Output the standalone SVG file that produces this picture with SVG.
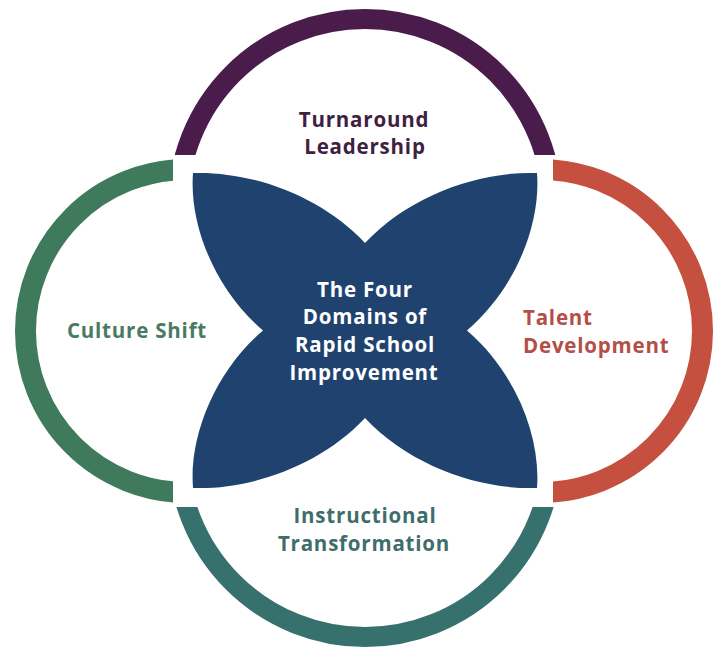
<svg xmlns="http://www.w3.org/2000/svg" width="721" height="648" viewBox="0 0 721 648">
<defs>
<clipPath id="clipTop"><rect x="0" y="0" width="721" height="155"/></clipPath>
<clipPath id="clipBottom"><rect x="0" y="507" width="721" height="141"/></clipPath>
<clipPath id="clipLeft"><rect x="0" y="0" width="173" height="648"/></clipPath>
<clipPath id="clipRight"><rect x="553" y="0" width="168" height="648"/></clipPath>
</defs>
<style>
.ring{fill:none;}
.lbl{font-family:"Open Sans","Liberation Sans",sans-serif;font-weight:700;font-size:20.5px;letter-spacing:0.8px;}
.mid{text-anchor:middle;}
</style>
<rect x="0" y="0" width="721" height="648" fill="#ffffff"/>
<g id="connectors"/>
<g id="node-turnaround">
<circle class="ring" cx="365" cy="206" r="187" stroke="#4a1c4c" stroke-width="20" clip-path="url(#clipTop)"/>
<text class="lbl mid" fill="#3e2141" x="364" y="127">Turnaround</text>
<text class="lbl mid" fill="#3e2141" x="365" y="154">Leadership</text>
</g>
<g id="node-culture">
<circle class="ring" cx="187" cy="331" r="161.5" stroke="#3e7a5b" stroke-width="21" clip-path="url(#clipLeft)"/>
<text class="lbl mid" fill="#4a7a63" x="137" y="338">Culture Shift</text>
</g>
<g id="node-talent">
<circle class="ring" cx="541" cy="331" r="161.5" stroke="#c5503f" stroke-width="21" clip-path="url(#clipRight)"/>
<text class="lbl" fill="#b34f46" x="523" y="325">Talent</text>
<text class="lbl" fill="#b34f46" x="523" y="353">Development</text>
</g>
<g id="node-instructional">
<circle class="ring" cx="365" cy="450" r="187" stroke="#37716d" stroke-width="20" clip-path="url(#clipBottom)"/>
<text class="lbl mid" fill="#3f6d6b" x="365" y="523">Instructional</text>
<text class="lbl mid" fill="#3f6d6b" x="364" y="551">Transformation</text>
</g>
<g id="node-center">
<path fill="#1f436e" d="M193,173 C250,171 320,195 365,243 C410,195 480,171 537,173 C541,225 515,289.5 467,330.5 C515,371.5 541,436 537,488 C480,490 410,466 365,418 C320,466 250,490 193,488 C189,436 215,371.5 263,330.5 C215,289.5 189,225 193,173 Z"/>
<text class="lbl mid" fill="#ffffff" x="365" y="297">The Four</text>
<text class="lbl mid" fill="#ffffff" x="365" y="324">Domains of</text>
<text class="lbl mid" fill="#ffffff" x="365" y="352">Rapid School</text>
<text class="lbl mid" fill="#ffffff" x="364" y="380">Improvement</text>
</g>
</svg>
